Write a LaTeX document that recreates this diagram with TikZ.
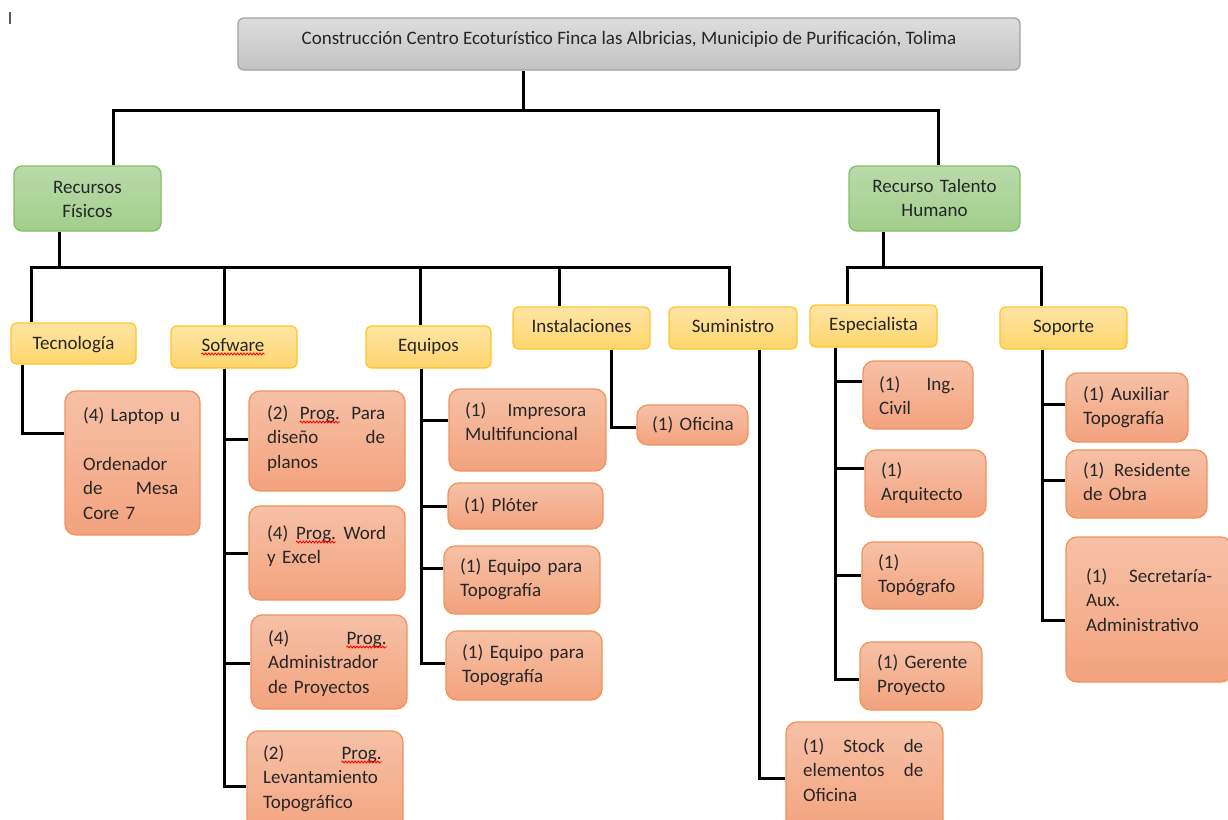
\documentclass[tikz,border=0pt]{standalone}
\usepackage{fontspec}
\setmainfont{Carlito}
\usetikzlibrary{decorations.pathmorphing}
\setlength{\parindent}{0pt}

\definecolor{ink}{HTML}{262626}
\definecolor{graytop}{HTML}{DDDDDD}
\definecolor{graybot}{HTML}{C3C3C3}
\definecolor{grayline}{HTML}{A3A3A3}
\definecolor{greentop}{HTML}{BADAAA}
\definecolor{greenbot}{HTML}{A2CE8B}
\definecolor{greenline}{HTML}{82C063}
\definecolor{yeltop}{HTML}{FFE5A4}
\definecolor{yelbot}{HTML}{FFD66E}
\definecolor{yelline}{HTML}{FFC52A}
\definecolor{oratop}{HTML}{F6C1A7}
\definecolor{orabot}{HTML}{F3A27E}
\definecolor{oraline}{HTML}{F0945A}

% red wavy spell-check underline
\newcommand\spell[1]{\tikz[baseline=(sw.base)]{%
  \node[inner sep=0pt, text=ink] (sw) {#1};
  \draw[red, line width=0.9pt, decorate,
        decoration={snake, amplitude=0.9pt, segment length=3.2pt}]
     ([yshift=-3pt]sw.base west) -- ([yshift=-3pt]sw.base east);}}
% justified line: interword spaces stretched to fill the given width
\newcommand\J[2]{{\spaceskip=\fontdimen2\font plus 1fil
  \xspaceskip=\fontdimen2\font plus 1fil
  \makebox[#1pt][s]{#2}}}

\begin{document}
\begin{tikzpicture}[x=1pt,y=-1pt,
  wire/.style={line width=3pt, black},
  boxbase/.style={draw, line width=1.3pt, inner sep=0pt},
  graybox/.style={boxbase, rounded corners=6pt, draw=grayline, top color=graytop, bottom color=graybot},
  greenbox/.style={boxbase, rounded corners=8pt, draw=greenline, top color=greentop, bottom color=greenbot},
  yelbox/.style={boxbase, rounded corners=6pt, draw=yelline, top color=yeltop, bottom color=yelbot},
  orabox/.style={boxbase, rounded corners=11pt, draw=oraline, top color=oratop, bottom color=orabot},
  txt/.style={font=\fontsize{19}{24.5}\selectfont, text=ink, inner sep=0pt},
  ctxt/.style={txt, anchor=base},
  mtxt/.style={txt, anchor=base, align=center, text width=170pt},
  jtxt/.style={txt, anchor=base west, align=left, text width=150pt},
]
\useasboundingbox (0,0) rectangle (1228,819);

% text cursor mark
\draw[line width=1.4pt, black!65] (10,12) -- (10,24);

% ---------- boxes ----------
\node[graybox, minimum width=782pt, minimum height=52pt] (top) at (629,44) {};

\node[greenbox, minimum width=147pt, minimum height=65pt] (rf) at (87.5,198.5) {};
\node[greenbox, minimum width=171pt, minimum height=65pt] (rth) at (934.5,198.5) {};

\node[yelbox, minimum width=125pt, minimum height=41pt] (tec) at (73.5,343.5) {};
\node[yelbox, minimum width=126pt, minimum height=42pt] (sof) at (234,347) {};
\node[yelbox, minimum width=125pt, minimum height=42pt] (equ) at (428.5,347) {};
\node[yelbox, minimum width=137pt, minimum height=42pt] (ins) at (581.5,328) {};
\node[yelbox, minimum width=128pt, minimum height=42pt] (sum) at (733,328) {};
\node[yelbox, minimum width=127pt, minimum height=42pt] (esp) at (873.5,326) {};
\node[yelbox, minimum width=127pt, minimum height=42pt] (sop) at (1063.5,328) {};

\node[orabox, minimum width=135pt, minimum height=144pt] (lap) at (132.5,463) {};
\node[orabox, minimum width=156pt, minimum height=100pt] (s1) at (327,441) {};
\node[orabox, minimum width=156pt, minimum height=94pt] (s2) at (327,553) {};
\node[orabox, minimum width=156pt, minimum height=94pt] (s3) at (329,662) {};
\node[orabox, minimum width=156pt, minimum height=110pt] (s4) at (325,786) {};
\node[orabox, minimum width=157pt, minimum height=82pt] (e1) at (527.5,430) {};
\node[orabox, minimum width=155pt, minimum height=46pt] (e2) at (525.5,506) {};
\node[orabox, minimum width=156pt, minimum height=68pt] (e3) at (522,580) {};
\node[orabox, minimum width=156pt, minimum height=69pt] (e4) at (524,665.5) {};
\node[orabox, minimum width=111pt, minimum height=40pt] (i1) at (692.5,425) {};
\node[orabox, minimum width=157pt, minimum height=112pt] (u1) at (864.5,778) {};
\node[orabox, minimum width=110pt, minimum height=68pt] (p1) at (918,395) {};
\node[orabox, minimum width=121pt, minimum height=67pt] (p2) at (925.5,483.5) {};
\node[orabox, minimum width=121pt, minimum height=67pt] (p3) at (922.5,575.5) {};
\node[orabox, minimum width=122pt, minimum height=68pt] (p4) at (921,676) {};
\node[orabox, minimum width=122pt, minimum height=69pt] (q1) at (1127,407.5) {};
\node[orabox, minimum width=141pt, minimum height=68pt] (q2) at (1136.5,484) {};
\node[orabox, minimum width=166pt, minimum height=145pt] (q3) at (1149,609.5) {};

% ---------- connectors ----------
\draw[wire] ([xshift=-106pt]top.south) -- ++(0,40) coordinate (hub0);
\draw[wire] ([xshift=25.5pt]rf.north) |- (hub0) -| ([xshift=3.5pt]rth.north);

\draw[wire] ([xshift=-28.5pt]rf.south) -- ++(0,36) coordinate (hub1);
\draw[wire] ([xshift=-42.5pt]tec.north) |- (hub1) -| ([xshift=-4pt]sum.north);
\draw[wire] ([xshift=-9.5pt]sof.north) -- ++(0,-59);
\draw[wire] ([xshift=-8pt]equ.north) -- ++(0,-59);
\draw[wire] ([xshift=-22.5pt]ins.north) -- ++(0,-40);

\draw[wire] ([xshift=-51.5pt]rth.south) -- ++(0,36) coordinate (hub2);
\draw[wire] ([xshift=-26.5pt]esp.north) |- (hub2) -| ([xshift=-22.5pt]sop.north);

\draw[wire] ([xshift=-51.5pt]tec.south) |- ([yshift=30pt]lap.west);

\draw[wire] ([xshift=-9.5pt]sof.south) |- ([yshift=2pt]s1.west);
\draw[wire] ([xshift=-9.5pt]sof.south) |- (s2.west);
\draw[wire] ([xshift=-9.5pt]sof.south) |- ([yshift=-1pt]s3.west);
\draw[wire] ([xshift=-9.5pt]sof.south) |- (s4.west);

\draw[wire] ([xshift=-7pt]equ.south) |- ([yshift=10pt]e1.west);
\draw[wire] ([xshift=-7pt]equ.south) |- (e2.west);
\draw[wire] ([xshift=-7pt]equ.south) |- ([yshift=12pt]e3.west);
\draw[wire] ([xshift=-7pt]equ.south) |- ([yshift=2.5pt]e4.west);

\draw[wire] ([xshift=29.5pt]ins.south) |- ([yshift=-2pt]i1.west);
\draw[wire] ([xshift=26pt]sum.south) |- (u1.west);

\draw[wire] ([xshift=-38.5pt]esp.south) |- ([yshift=14pt]p1.west);
\draw[wire] ([xshift=-38.5pt]esp.south) |- ([yshift=15.5pt]p2.west);
\draw[wire] ([xshift=-38.5pt]esp.south) |- (p3.west);
\draw[wire] ([xshift=-38.5pt]esp.south) |- ([yshift=-3pt]p4.west);

\draw[wire] ([xshift=-21.5pt]sop.south) |- ([yshift=3.5pt]q1.west);
\draw[wire] ([xshift=-21.5pt]sop.south) |- ([yshift=4pt]q2.west);
\draw[wire] ([xshift=-21.5pt]sop.south) |- ([yshift=-10.5pt]q3.west);

% ---------- texts ----------
\node[ctxt] (topt) at (629,44) {Construcción Centro Ecoturístico Finca las Albricias, Municipio de Purificación, Tolima};
\node[mtxt] (rft) at (87.5,193) {Recursos\\Físicos};
\node[mtxt] (rtht) at (934.5,192) {Recurso Talento\\Humano};

\node[ctxt] (tect) at (73.5,349) {Tecnología};
\node[ctxt] (soft) at (233,351) {\spell{Sofware}};
\node[ctxt] (equt) at (428.5,351) {Equipos};
\node[ctxt] (inst) at (581.5,332) {Instalaciones};
\node[ctxt] (sumt) at (733,332) {Suministro};
\node[ctxt] (espt) at (873.5,330) {Especialista};
\node[ctxt] (sopt) at (1063.5,332) {Soporte};

\node[jtxt] (lapt) at (83,421) {(4) Laptop u\\\mbox{}\\Ordenador\\\J{95}{de Mesa}\\Core 7};
\node[jtxt] (s1t) at (267,419) {\J{118}{(2) \spell{Prog.} Para}\\\J{118}{diseño de}\\planos};
\node[jtxt] (s2t) at (267,539) {\J{119}{(4) \spell{Prog.} Word}\\y Excel};
\node[jtxt] (s3t) at (268,644) {\J{119}{(4) \spell{Prog.}}\\Administrador\\de Proyectos};
\node[jtxt] (s4t) at (263,759) {\J{119}{(2) \spell{Prog.}}\\Levantamiento\\Topográfico};
\node[jtxt] (e1t) at (465,416) {\J{121}{(1) Impresora}\\Multifuncional};
\node[jtxt] (e2t) at (464,511) {(1) Plóter};
\node[jtxt] (e3t) at (460,572) {\J{122}{(1) Equipo para}\\Topografía};
\node[jtxt] (e4t) at (462,658) {\J{122}{(1) Equipo para}\\Topografía};
\node[jtxt] (i1t) at (652,430) {(1) Oficina};
\node[jtxt] (u1t) at (803,752) {\J{120}{(1) Stock de}\\\J{120}{elementos de}\\Oficina};
\node[jtxt] (p1t) at (879,390) {\J{76}{(1) Ing.}\\Civil};
\node[jtxt] (p2t) at (881,476) {(1)\\Arquitecto};
\node[jtxt] (p3t) at (878,568) {(1)\\Topógrafo};
\node[jtxt] (p4t) at (877,668) {(1) Gerente\\Proyecto};
\node[jtxt] (q1t) at (1083,400) {\J{86}{(1) Auxiliar}\\Topografía};
\node[jtxt] (q2t) at (1083,476) {\J{107}{(1) Residente}\\de Obra};
\node[jtxt] (q3t) at (1086,582) {\J{126}{(1) Secretaría-}\\Aux.\\Administrativo};
\end{tikzpicture}
\end{document}
